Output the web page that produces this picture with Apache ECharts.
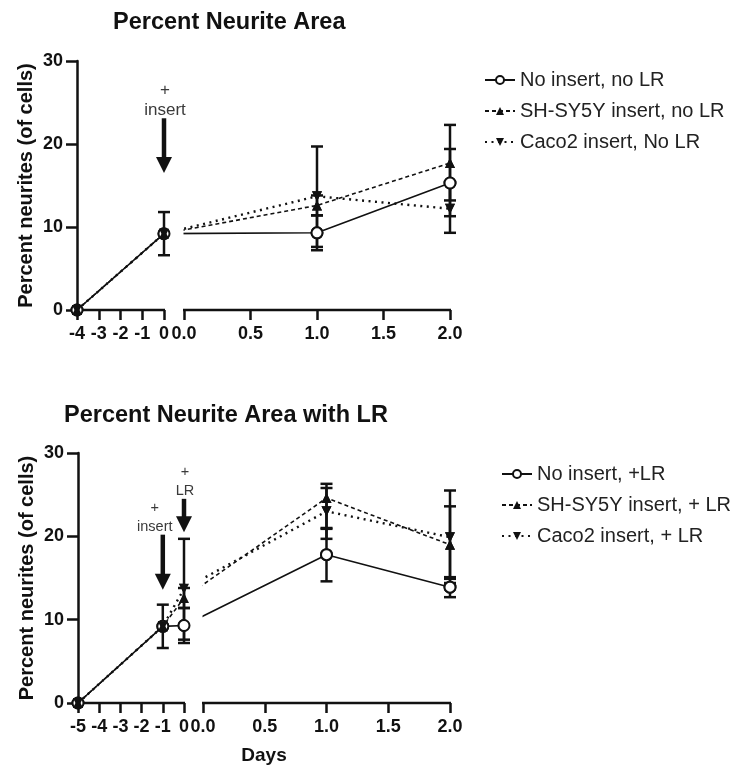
<!DOCTYPE html>
<html><head><meta charset="utf-8">
<script src="https://cdn.jsdelivr.net/npm/echarts@6.0.0/dist/echarts.min.js"></script>
<style>html,body{margin:0;padding:0;background:#fff}#c{width:744px;height:779px}</style>
</head><body><div id="c"></div>
<script>
// ================= DATA =================
// Top chart: Percent Neurite Area
const topDays = [-4, 0, 1, 2];
const topSeg  = ['pre', 'pre', 'post', 'post'];
const topNoInsert   = [0, 9.2, 9.3, 15.3];
const topNoInsertLo = [null, 6.6, 7.2, 11.3];
const topNoInsertHi = [null, 11.8, 11.4, 19.4];
const topSH   = [0, 9.2, 12.6, 17.7];
const topSHLo = [null, null, 11.4, 13.2];
const topSHHi = [null, null, 13.8, 22.3];
const topCaco   = [0, 9.2, 13.7, 12.2];
const topCacoLo = [null, null, 7.6, 9.3];
const topCacoHi = [null, null, 19.7, 15.1];
const topNames = ['No insert, no LR', 'SH-SY5Y insert, no LR', 'Caco2 insert, No LR'];
const topPreTicks  = [-4, -3, -2, -1, 0];
const topPostTicks = [0, 0.5, 1, 1.5, 2];
const topArrowDays = [0];
const topArrowSeg  = ['pre'];
const topArrowFrom = [23.1];
const topArrowTo   = [16.5];
const topArrowText = ['insert'];

// Bottom chart: Percent Neurite Area with LR
const botDays = [-5, -1, 0, 1, 2];
const botSeg  = ['pre', 'pre', 'pre', 'post', 'post'];
const botNoInsert   = [0, 9.2, 9.3, 17.8, 13.9];
const botNoInsertLo = [null, 6.6, 7.2, 14.6, 12.7];
const botNoInsertHi = [null, 11.8, 11.4, 21.0, 15.1];
const botSH   = [0, 9.2, 12.6, 24.6, 19.0];
const botSHLo = [null, null, 11.4, 20.9, 14.9];
const botSHHi = [null, null, 13.8, 26.3, 23.6];
const botCaco   = [0, 9.2, 13.7, 23.0, 19.9];
const botCacoLo = [null, null, 7.6, 19.7, 14.4];
const botCacoHi = [null, null, 19.7, 25.8, 25.5];
const botNames = ['No insert, +LR', 'SH-SY5Y insert, + LR', 'Caco2 insert, + LR'];
const botPreTicks  = [-5, -4, -3, -2, -1, 0];
const botPostTicks = [0, 0.5, 1, 1.5, 2];
const botArrowDays = [-1, 0];
const botArrowSeg  = ['pre', 'pre'];
const botArrowFrom = [20.2, 24.5];
const botArrowTo   = [13.6, 20.5];
const botArrowText = ['insert', 'LR'];

const titles = ['Percent Neurite Area', 'Percent Neurite Area with LR'];
const yName = 'Percent neurites (of cells)';
const xName = 'Days';

// ================= LAYOUT =================
const FONT = 'Liberation Sans, Arial, Helvetica, sans-serif';
const INK = '#111';
const TOP = {left: 77, top: 61, height: 249, preMin: -4, preMax: 0, prePx: 87, postStart: 107, postMin: 0, postMax: 2, postPx: 266,
  noteFont: 17, noteLH: 20, noteDx: [1], legendLeft: 479, legendTop: 65};
const BOT = {left: 78, top: 453, height: 250, preMin: -5, preMax: 0, prePx: 106, postStart: 125, postMin: 0, postMax: 2, postPx: 247,
  noteFont: 14.5, noteLH: 19, noteDx: [-8, 1], legendLeft: 496, legendTop: 459};
[TOP, BOT].forEach(c => c.width = c.postStart + c.postPx);

// broken axis transform: day + segment -> continuous axis coordinate
function U(cfg, d, seg) {
  return seg === 'pre'
    ? (d - cfg.preMin) / (cfg.preMax - cfg.preMin) * cfg.prePx
    : cfg.postStart + (d - cfg.postMin) / (cfg.postMax - cfg.postMin) * cfg.postPx;
}

const STY = [
  {type: 'solid', width: 1.6, symbol: 'circle', size: 11, fill: '#fff', bw: 2},
  {type: [4, 3], width: 1.6, symbol: 'triangle', size: 10, fill: INK, bw: 0},
  {type: [2, 4.5], width: 2.4, symbol: 'path://M0,0L10,0L5,10Z', size: 10, fill: INK, bw: 0}
];

const series = [];
const xAxes = [], yAxes = [], grids = [], legends = [];

function build(ci, cfg, days, seg, vals, los, his, names, preTicks, postTicks, aDays, aSeg, aFrom, aTo, aText) {
  grids.push({left: cfg.left, top: cfg.top, width: cfg.width, height: cfg.height});
  const tickU = [], labelMap = {};
  preTicks.forEach(t => { const u = U(cfg, t, 'pre'); tickU.push(u); labelMap[Math.round(u * 100)] = String(t); });
  postTicks.forEach(t => { const u = U(cfg, t, 'post'); tickU.push(u); labelMap[Math.round(u * 100)] = t.toFixed(1); });
  xAxes.push({
    type: 'value', gridIndex: ci, min: 0, max: cfg.width,
    axisLine: {show: false}, splitLine: {show: false},
    axisTick: {show: true, customValues: tickU, length: 10, lineStyle: {color: INK, width: 2.5}},
    axisLabel: {show: true, customValues: tickU, margin: 15, color: INK, fontFamily: FONT, fontWeight: 'bold', fontSize: 18,
      formatter: v => labelMap[Math.round(v * 100)] ?? ''},
    name: ci === 1 ? xName : '', nameLocation: 'middle', nameGap: 43, nameMoveOverlap: false,
    nameTextStyle: {color: INK, fontFamily: FONT, fontWeight: 'bold', fontSize: 19}
  });
  yAxes.push({
    type: 'value', gridIndex: ci, min: 0, max: 30, interval: 10,
    axisLine: {show: true, lineStyle: {color: INK, width: 2.5}},
    axisTick: {show: true, length: 11, lineStyle: {color: INK, width: 2.5}},
    axisLabel: {margin: 14, color: INK, fontFamily: FONT, fontWeight: 'bold', fontSize: 18},
    splitLine: {show: false},
    name: yName, nameLocation: 'middle', nameGap: 41, nameMoveOverlap: false,
    nameTextStyle: {color: INK, fontFamily: FONT, fontWeight: 'bold', fontSize: 20}
  });
  const us = days.map((d, i) => U(cfg, d, seg[i]));
  // lines (with symbols for legend)
  vals.forEach((v, k) => {
    const s = STY[k];
    series.push({
      type: 'line', name: names[k], xAxisIndex: ci, yAxisIndex: ci, z: 2,
      data: us.map((u, i) => [u, v[i]]),
      symbol: s.symbol, symbolSize: s.size, showSymbol: true,
      lineStyle: {color: INK, width: s.width, type: s.type},
      itemStyle: {color: s.fill, borderColor: INK, borderWidth: s.bw},
      emphasis: {disabled: true}
    });
  });
  // gap cover
  series.push({
    type: 'custom', xAxisIndex: ci, yAxisIndex: ci, z: 3, silent: true,
    data: [[cfg.prePx + 1.5, cfg.postStart - 0.5, 0, 30]],
    encode: {x: [0, 1], y: [2, 3]},
    renderItem: (p, api) => {
      const a = api.coord([api.value(0), api.value(3)]);
      const b = api.coord([api.value(1), api.value(2)]);
      return {type: 'rect', shape: {x: a[0], y: a[1] - 5, width: b[0] - a[0], height: b[1] - a[1] + 3}, style: {fill: '#fff'}};
    }
  });
  // broken x axis line segments
  series.push({
    type: 'custom', xAxisIndex: ci, yAxisIndex: ci, z: 4, silent: true,
    data: [[U(cfg, cfg.preMin, 'pre'), U(cfg, cfg.preMax, 'pre'), 0], [U(cfg, cfg.postMin, 'post'), U(cfg, cfg.postMax, 'post'), 0]],
    encode: {x: [0, 1], y: 2},
    renderItem: (p, api) => {
      const a = api.coord([api.value(0), api.value(2)]);
      const b = api.coord([api.value(1), api.value(2)]);
      return {type: 'line', shape: {x1: a[0] - 1, y1: a[1], x2: b[0] + 1, y2: b[1]}, style: {stroke: INK, lineWidth: 2.5}};
    }
  });
  // error bars
  const eb = [];
  los.forEach((lo, k) => lo.forEach((l, i) => { if (l != null) eb.push([us[i], l, his[k][i]]); }));
  series.push({
    type: 'custom', xAxisIndex: ci, yAxisIndex: ci, z: 5, silent: true, data: eb,
    encode: {x: 0, y: [1, 2]},
    renderItem: (p, api) => {
      const lo = api.coord([api.value(0), api.value(1)]);
      const hi = api.coord([api.value(0), api.value(2)]);
      const st = {stroke: INK, lineWidth: 2.5};
      const w = 6;
      return {type: 'group', children: [
        {type: 'line', shape: {x1: lo[0], y1: lo[1], x2: hi[0], y2: hi[1]}, style: st},
        {type: 'line', shape: {x1: lo[0] - w, y1: lo[1], x2: lo[0] + w, y2: lo[1]}, style: st},
        {type: 'line', shape: {x1: hi[0] - w, y1: hi[1], x2: hi[0] + w, y2: hi[1]}, style: st}
      ]};
    }
  });
  // markers on top
  vals.forEach((v, k) => {
    const s = STY[k];
    series.push({
      type: 'scatter', name: 'mk' + ci + k, xAxisIndex: ci, yAxisIndex: ci, z: 6, silent: true,
      data: us.map((u, i) => [u, v[i]]),
      symbol: s.symbol, symbolSize: s.size,
      itemStyle: {color: s.fill, borderColor: INK, borderWidth: s.bw, opacity: 1}
    });
  });
  // annotation arrows
  series.push({
    type: 'custom', xAxisIndex: ci, yAxisIndex: ci, z: 6, silent: true,
    data: aDays.map((d, i) => [U(cfg, d, aSeg[i]), aFrom[i], aTo[i], i]),
    encode: {x: 0, y: [1, 2]},
    renderItem: (p, api) => {
      const t = api.coord([api.value(0), api.value(1)]);
      const e = api.coord([api.value(0), api.value(2)]);
      const idx = api.value(3);
      const txt = aText[idx];
      const hh = 16, hw = 8;
      return {type: 'group', children: [
        {type: 'line', shape: {x1: t[0], y1: t[1], x2: e[0], y2: e[1] - hh + 1}, style: {stroke: INK, lineWidth: 4.5}},
        {type: 'polygon', shape: {points: [[e[0] - hw, e[1] - hh], [e[0] + hw, e[1] - hh], [e[0], e[1]]]}, style: {fill: INK}},
        {type: 'text', x: t[0] + cfg.noteDx[idx], y: t[1] + 2, style: {text: '+\n' + txt, textAlign: 'center', textVerticalAlign: 'bottom',
          font: cfg.noteFont + 'px ' + FONT, fill: '#3a3a3a', lineHeight: cfg.noteLH}}
      ]};
    }
  });
  legends.push({
    data: names, orient: 'vertical', left: cfg.legendLeft, top: cfg.legendTop,
    itemWidth: 30, itemHeight: 10, itemGap: 11, selectedMode: false,
    textStyle: {color: '#222', fontFamily: FONT, fontSize: 20}
  });
}

build(0, TOP, topDays, topSeg, [topNoInsert, topSH, topCaco], [topNoInsertLo, topSHLo, topCacoLo], [topNoInsertHi, topSHHi, topCacoHi],
  topNames, topPreTicks, topPostTicks, topArrowDays, topArrowSeg, topArrowFrom, topArrowTo, topArrowText);
build(1, BOT, botDays, botSeg, [botNoInsert, botSH, botCaco], [botNoInsertLo, botSHLo, botCacoLo], [botNoInsertHi, botSHHi, botCacoHi],
  botNames, botPreTicks, botPostTicks, botArrowDays, botArrowSeg, botArrowFrom, botArrowTo, botArrowText);

const chart = echarts.init(document.getElementById('c'), null, {renderer: 'canvas'});
chart.setOption({
  backgroundColor: '#fff',
  animation: false,
  grid: grids, xAxis: xAxes, yAxis: yAxes, legend: legends, series: series,
  graphic: [
    {type: 'text', left: 263 - 150, top: 11, style: {text: titles[0], font: 'bold 23.5px ' + FONT, fill: INK, width: 300, align: 'center'}},
    {type: 'text', left: 264 - 200, top: 404, style: {text: titles[1], font: 'bold 23.5px ' + FONT, fill: INK, width: 400, align: 'center'}}
  ]
});
</script></body></html>
